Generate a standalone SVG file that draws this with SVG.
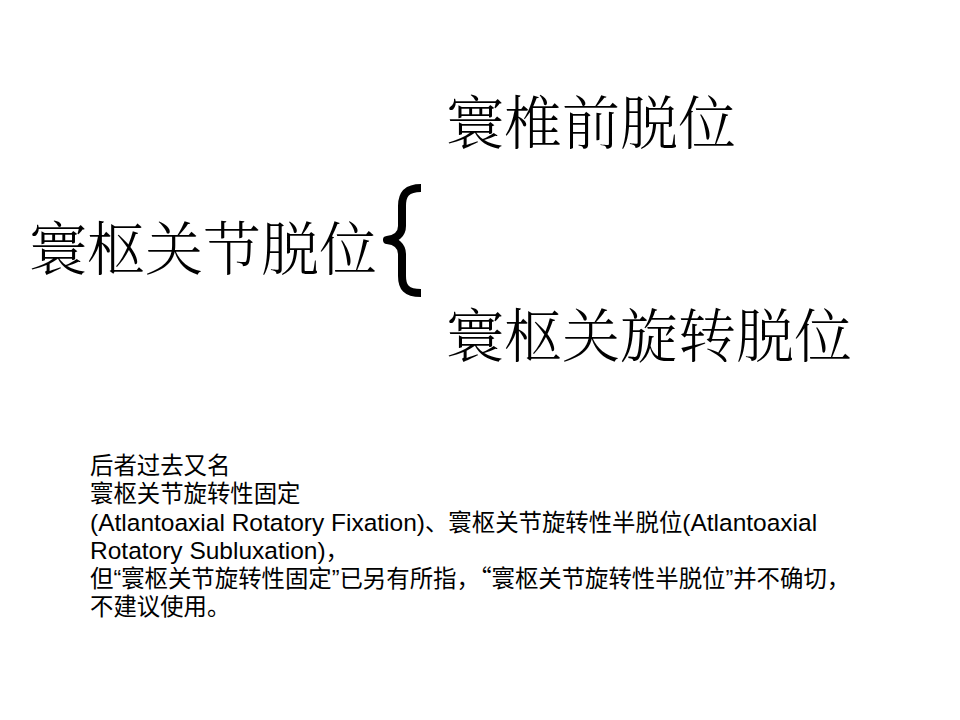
<svg xmlns="http://www.w3.org/2000/svg" width="960" height="720" viewBox="0 0 960 720">
<style>
.big{font-family:"Noto Serif CJK SC","Noto Sans CJK SC",serif;font-size:58px;fill:#000;font-weight:300}
.note{font-family:"Liberation Sans","Noto Sans CJK SC",sans-serif;font-size:23.4px;fill:#000}
.lat{font-size:24.5px}
.cjk{font-family:"Noto Sans CJK SC",sans-serif}
.brace{fill:none;stroke:#000;stroke-width:8;stroke-linejoin:round}
</style>
<rect width="960" height="720" fill="#fff"/>
<g id="root">
<text class="big" x="29" y="270">寰枢关节脱位</text>
</g>
<g id="connectors">
<path class="brace" d="M421,188 C406,188 402,195 402,206 L402,226 C402,234 396,239 387,240 C396,241 402,246 402,254 L402,276 C402,287 406,293 421,293"/>
</g>
<g id="node-anterior">
<text class="big" x="446" y="144">寰椎前脱位</text>
</g>
<g id="node-rotatory">
<text class="big" x="446" y="357">寰枢关旋转脱位</text>
</g>
<g id="note">
<text class="note" x="90" y="474">后者过去又名</text>
<text class="note" x="90" y="502">寰枢关节旋转性固定</text>
<text class="note" x="90" y="531"><tspan class="lat">(Atlantoaxial Rotatory Fixation)</tspan>、寰枢关节旋转性半脱位<tspan class="lat">(Atlantoaxial</tspan></text>
<text class="note" x="90" y="559"><tspan class="lat">Rotatory Subluxation)</tspan>，</text>
<text class="note" x="90" y="587">但“寰枢关节旋转性固定”已另有所指，<tspan class="cjk">“</tspan>寰枢关节旋转性半脱位”并不确切，</text>
<text class="note" x="90" y="615">不建议使用。</text>
</g>
</svg>
